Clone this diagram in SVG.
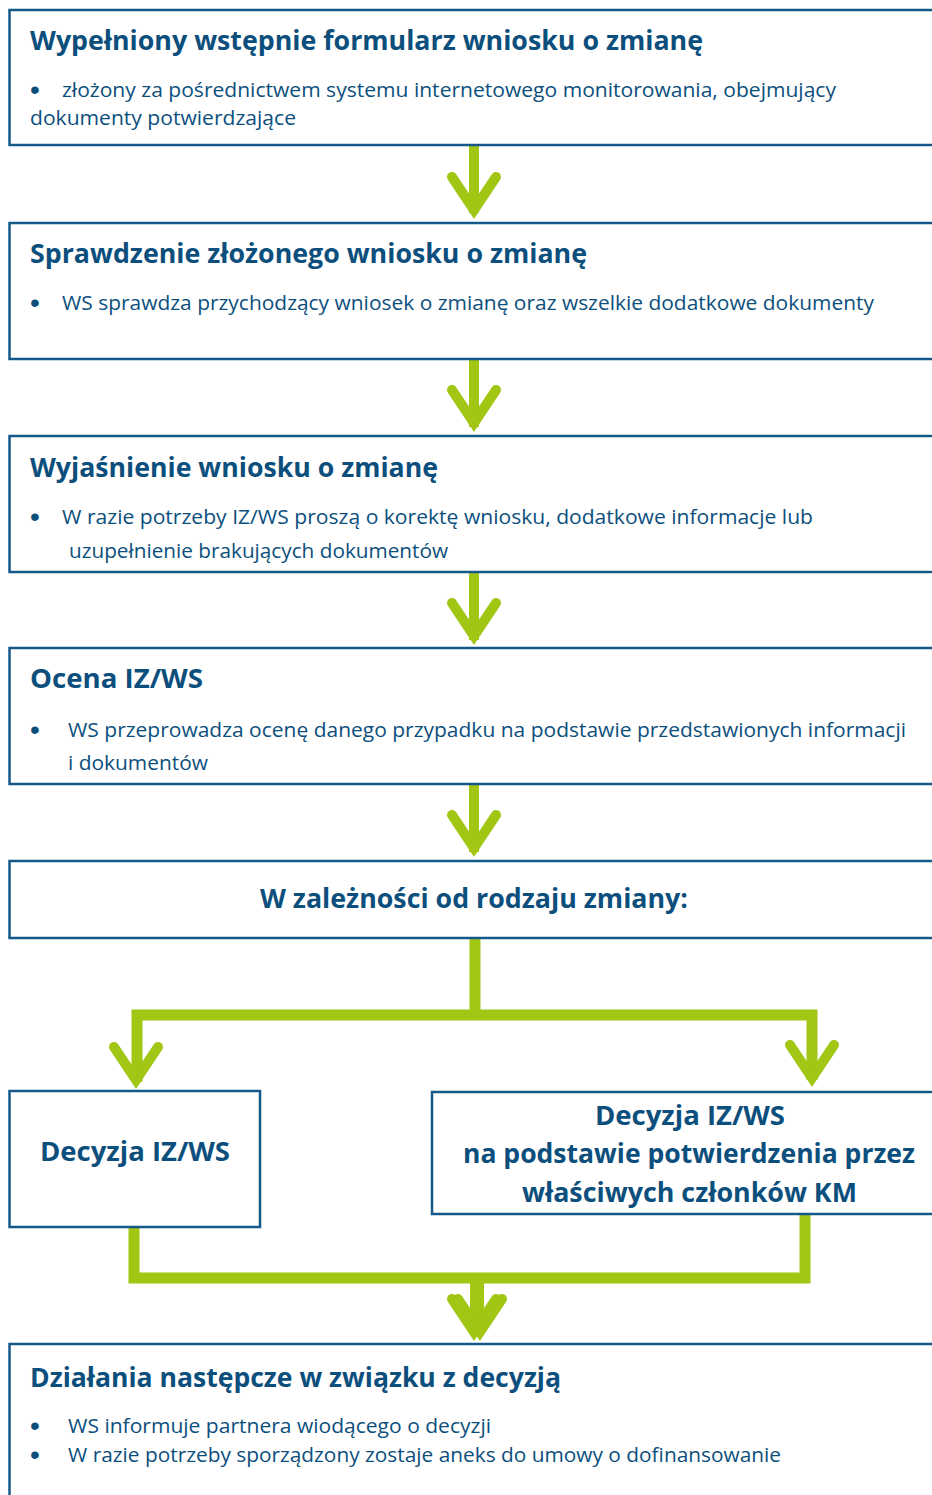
<svg xmlns="http://www.w3.org/2000/svg" xmlns:xlink="http://www.w3.org/1999/xlink" width="932" height="1495" viewBox="0 0 932 1495">
<style>
.box{fill:#fff;stroke:#15598a;stroke-width:2.5}
.t{font-family:"Open Sans","Liberation Sans",sans-serif;fill:#0c4f7d}
.h{font-size:26px;font-weight:bold}
.b{font-size:20px}
.d{font-size:28px;font-family:"Liberation Sans",sans-serif;fill:#0c4f7d}
.g{fill:#a1c614}
.gl{fill:none;stroke:#a1c614;stroke-width:11}
.hd{fill:none;stroke:#a1c614;stroke-width:10;stroke-linecap:round;stroke-linejoin:miter}
</style>
<defs>
<path id="head" class="hd" d="M-22,-43 L0,-10 L22,-43"/>
</defs>
<rect width="932" height="1495" fill="#fff"/>
<g id="connectors">
<rect class="g" x="469" y="145" width="10" height="68"/>
<use xlink:href="#head" x="474" y="220"/>
<rect class="g" x="469" y="359" width="10" height="68"/>
<use xlink:href="#head" x="474" y="433"/>
<rect class="g" x="469" y="572" width="10" height="68"/>
<use xlink:href="#head" x="474" y="646"/>
<rect class="g" x="469" y="784" width="10" height="68"/>
<use xlink:href="#head" x="474" y="858"/>
<path class="gl" d="M475,938 V1015 M137,1082 V1015 H812 V1080"/>
<use xlink:href="#head" x="136" y="1090"/>
<use xlink:href="#head" x="812" y="1088"/>
<path class="gl" d="M134,1227 V1278 H805 V1215"/>
<rect class="g" x="470" y="1278" width="14" height="55"/>
<use xlink:href="#head" x="474" y="1342"/>
<use xlink:href="#head" x="480" y="1342"/>
</g>
<g id="n1">
<rect class="box" x="9.5" y="10" width="940" height="135"/>
<text class="t h" x="30" y="50" textLength="673" lengthAdjust="spacingAndGlyphs">Wypełniony wstępnie formularz wniosku o zmianę</text>
<text class="d" x="30" y="99">•</text>
<text class="t b" x="62" y="97" textLength="774" lengthAdjust="spacingAndGlyphs">złożony za pośrednictwem systemu internetowego monitorowania, obejmujący</text>
<text class="t b" x="30" y="125" textLength="266" lengthAdjust="spacingAndGlyphs">dokumenty potwierdzające</text>
</g>
<g id="n2">
<rect class="box" x="9.5" y="223" width="940" height="136"/>
<text class="t h" x="30" y="263" textLength="557" lengthAdjust="spacingAndGlyphs">Sprawdzenie złożonego wniosku o zmianę</text>
<text class="d" x="30" y="312">•</text>
<text class="t b" x="62" y="310" textLength="812" lengthAdjust="spacingAndGlyphs">WS sprawdza przychodzący wniosek o zmianę oraz wszelkie dodatkowe dokumenty</text>
</g>
<g id="n3">
<rect class="box" x="9.5" y="436" width="940" height="136"/>
<text class="t h" x="30" y="477" textLength="408" lengthAdjust="spacingAndGlyphs">Wyjaśnienie wniosku o zmianę</text>
<text class="d" x="30" y="526">•</text>
<text class="t b" x="62" y="524" textLength="751" lengthAdjust="spacingAndGlyphs">W razie potrzeby IZ/WS proszą o korektę wniosku, dodatkowe informacje lub</text>
<text class="t b" x="69" y="558" textLength="379" lengthAdjust="spacingAndGlyphs">uzupełnienie brakujących dokumentów</text>
</g>
<g id="n4">
<rect class="box" x="9.5" y="648" width="940" height="136"/>
<text class="t h" x="30" y="688" textLength="173" lengthAdjust="spacingAndGlyphs">Ocena IZ/WS</text>
<text class="d" x="30" y="739">•</text>
<text class="t b" x="68" y="737" textLength="838" lengthAdjust="spacingAndGlyphs">WS przeprowadza ocenę danego przypadku na podstawie przedstawionych informacji</text>
<text class="t b" x="68" y="770" textLength="140" lengthAdjust="spacingAndGlyphs">i dokumentów</text>
</g>
<g id="n5">
<rect class="box" x="9.5" y="861" width="940" height="77"/>
<text class="t h" x="260" y="908" textLength="428" lengthAdjust="spacingAndGlyphs">W zależności od rodzaju zmiany:</text>
</g>
<g id="n6">
<rect class="box" x="9.5" y="1091" width="250.5" height="136"/>
<text class="t h" x="40" y="1161" textLength="190" lengthAdjust="spacingAndGlyphs">Decyzja IZ/WS</text>
</g>
<g id="n7">
<rect class="box" x="432" y="1092" width="520" height="122"/>
<text class="t h" x="595" y="1125" textLength="190" lengthAdjust="spacingAndGlyphs">Decyzja IZ/WS</text>
<text class="t h" x="463" y="1163" textLength="452" lengthAdjust="spacingAndGlyphs">na podstawie potwierdzenia przez</text>
<text class="t h" x="522" y="1202" textLength="335" lengthAdjust="spacingAndGlyphs">właściwych członków KM</text>
</g>
<g id="n8">
<rect class="box" x="9.5" y="1344" width="940" height="200"/>
<text class="t h" x="30" y="1387" textLength="531" lengthAdjust="spacingAndGlyphs">Działania następcze w związku z decyzją</text>
<text class="d" x="30" y="1435">•</text>
<text class="t b" x="68" y="1433" textLength="423" lengthAdjust="spacingAndGlyphs">WS informuje partnera wiodącego o decyzji</text>
<text class="d" x="30" y="1464">•</text>
<text class="t b" x="68" y="1462" textLength="713" lengthAdjust="spacingAndGlyphs">W razie potrzeby sporządzony zostaje aneks do umowy o dofinansowanie</text>
</g>
</svg>
